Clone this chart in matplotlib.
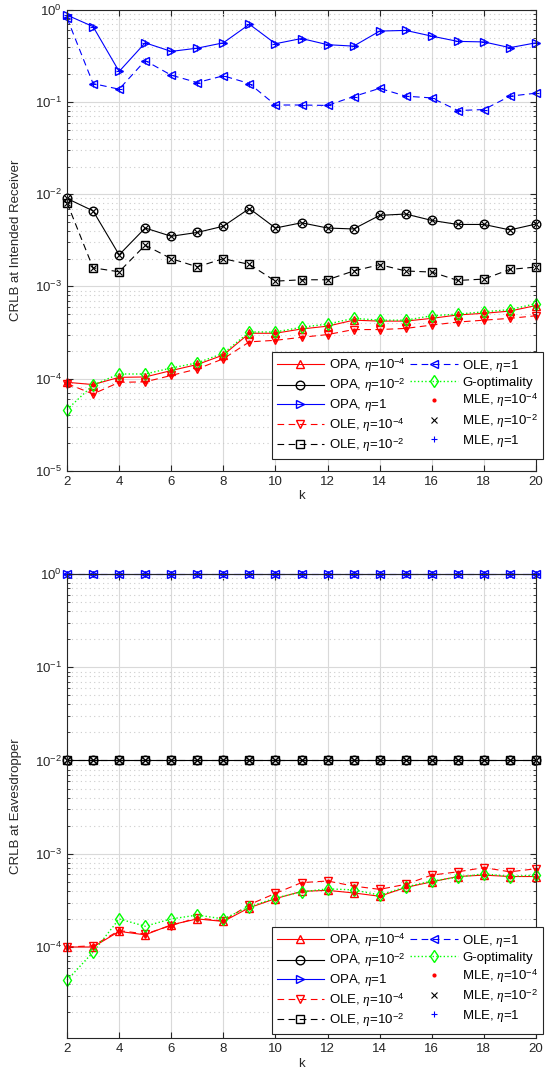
import numpy as np
import matplotlib
matplotlib.use('Agg')
import matplotlib.pyplot as plt
from matplotlib.ticker import LogLocator, NullFormatter

plt.rcParams['font.family'] = ['Liberation Sans', 'DejaVu Sans']
plt.rcParams['mathtext.fontset'] = 'custom'
plt.rcParams['mathtext.rm'] = 'Liberation Sans'
plt.rcParams['mathtext.it'] = 'Liberation Serif:italic'

k = np.arange(2, 21)

# intended receiver
rx_opa_4 = [9.1e-5, 8.6e-5, 1.03e-4, 1.04e-4, 1.22e-4, 1.42e-4, 1.8e-4, 3.1e-4, 3.1e-4, 3.45e-4,
            3.7e-4, 4.3e-4, 4.2e-4, 4.2e-4, 4.5e-4, 4.9e-4, 5.1e-4, 5.4e-4, 6.2e-4]
rx_opa_2 = [0.0090, 0.0066, 0.0022, 0.0043, 0.0035, 0.00385, 0.0045, 0.0070, 0.0043, 0.0049,
            0.0043, 0.0042, 0.0059, 0.0061, 0.0052, 0.0047, 0.0047, 0.0041, 0.00475]
rx_opa_0 = [0.88, 0.66, 0.215, 0.44, 0.355, 0.385, 0.44, 0.70, 0.43, 0.49,
            0.42, 0.405, 0.59, 0.60, 0.52, 0.456, 0.45, 0.39, 0.44]
rx_ole_4 = [8.8e-5, 6.8e-5, 9.1e-5, 9.2e-5, 1.08e-4, 1.27e-4, 1.64e-4, 2.5e-4, 2.6e-4, 2.8e-4,
            3.0e-4, 3.4e-4, 3.4e-4, 3.5e-4, 3.8e-4, 4.1e-4, 4.3e-4, 4.5e-4, 4.8e-4]
rx_ole_2 = [0.0081, 0.00159, 0.00144, 0.0028, 0.0020, 0.00163, 0.0020, 0.00173, 0.00114, 0.00118,
            0.00118, 0.00147, 0.00172, 0.00147, 0.00143, 0.00116, 0.0012, 0.00153, 0.00162]
rx_ole_0 = [0.82, 0.159, 0.138, 0.282, 0.196, 0.163, 0.193, 0.159, 0.093, 0.093,
            0.092, 0.115, 0.141, 0.116, 0.111, 0.081, 0.083, 0.116, 0.125]
rx_gopt = [4.6e-5, 8.5e-5, 1.12e-4, 1.12e-4, 1.3e-4, 1.48e-4, 1.88e-4, 3.2e-4, 3.2e-4, 3.6e-4,
           3.9e-4, 4.5e-4, 4.3e-4, 4.3e-4, 4.8e-4, 5.0e-4, 5.3e-4, 5.6e-4, 6.5e-4]

# eavesdropper
ev_opa_4 = [1.0e-4, 1.0e-4, 1.47e-4, 1.35e-4, 1.73e-4, 2.0e-4, 1.88e-4, 2.64e-4, 3.3e-4, 3.95e-4,
            4.05e-4, 3.8e-4, 3.5e-4, 4.35e-4, 5.0e-4, 5.7e-4, 5.9e-4, 5.7e-4, 5.7e-4]
ev_ole_4 = [1.0e-4, 1.03e-4, 1.5e-4, 1.38e-4, 1.7e-4, 2.05e-4, 1.9e-4, 2.85e-4, 3.76e-4, 4.9e-4,
            5.1e-4, 4.5e-4, 4.15e-4, 4.7e-4, 5.9e-4, 6.4e-4, 7.1e-4, 6.4e-4, 6.9e-4]
ev_opa_2 = [0.01] * 19
ev_ole_2 = [0.01] * 19
ev_opa_0 = [1.0] * 19
ev_ole_0 = [1.0] * 19
ev_gopt = [4.4e-5, 8.8e-5, 2.0e-4, 1.67e-4, 2.0e-4, 2.2e-4, 2.0e-4, 2.7e-4, 3.35e-4, 3.9e-4,
           4.2e-4, 4.1e-4, 3.6e-4, 4.4e-4, 5.1e-4, 5.6e-4, 6.1e-4, 5.7e-4, 5.9e-4]

lab = {
    'opa4': 'OPA, $\\mathit{\\eta}$=10$^{-4}$',
    'opa2': 'OPA, $\\mathit{\\eta}$=10$^{-2}$',
    'opa0': 'OPA, $\\mathit{\\eta}$=1',
    'ole4': 'OLE, $\\mathit{\\eta}$=10$^{-4}$',
    'ole2': 'OLE, $\\mathit{\\eta}$=10$^{-2}$',
    'ole0': 'OLE, $\\mathit{\\eta}$=1',
    'gopt': 'G-optimality',
    'mle4': 'MLE, $\\mathit{\\eta}$=10$^{-4}$',
    'mle2': 'MLE, $\\mathit{\\eta}$=10$^{-2}$',
    'mle0': 'MLE, $\\mathit{\\eta}$=1',
}

RED = (1, 0, 0)
BLK = (0, 0, 0)
BLU = (0, 0, 1)
GRN = (0, 1, 0)
AXC = (0.15, 0.15, 0.15)


def draw(ax, opa4, opa2, opa0, ole4, ole2, ole0, gopt, ylabel, ylo, anchor_y):
    kw = dict(markerfacecolor='none', markersize=6.2, linewidth=0.8, clip_on=False)
    h = {}
    h['opa4'], = ax.plot(k, opa4, '-^', color=RED, **kw)
    h['opa2'], = ax.plot(k, opa2, '-o', color=BLK, **kw)
    h['opa0'], = ax.plot(k, opa0, '->', color=BLU, **kw)
    h['ole4'], = ax.plot(k, ole4, '--v', color=RED, dashes=(6, 4), **kw)
    h['ole2'], = ax.plot(k, ole2, '--s', color=BLK, dashes=(6, 4), markersize=5.2,
                         markerfacecolor='none', linewidth=0.8, clip_on=False)
    h['ole0'], = ax.plot(k, ole0, '--<', color=BLU, dashes=(6, 4), **kw)
    h['gopt'], = ax.plot(k, gopt, ':d', color=GRN, markersize=6, markerfacecolor='none',
                         linewidth=1.0, clip_on=False)
    # MLE points sit on both the OPA and OLE designs
    for arr in (opa4, ole4):
        h['mle4'], = ax.plot(k, arr, '.', color=RED, markersize=4, linestyle='none', clip_on=False)
    for arr in (opa2, ole2):
        h['mle2'], = ax.plot(k, arr, 'x', color=BLK, markersize=4, markeredgewidth=0.8,
                             linestyle='none', clip_on=False)
    for arr in (opa0, ole0):
        h['mle0'], = ax.plot(k, arr, '+', color=BLU, markersize=5, markeredgewidth=0.8,
                             linestyle='none', clip_on=False)

    ax.set_yscale('log')
    ax.set_xlim(2, 20)
    ax.set_ylim(ylo, 1)
    ax.set_xticks(np.arange(2, 21, 2))
    ax.yaxis.set_major_locator(LogLocator(base=10, numticks=10))
    ax.yaxis.set_minor_locator(LogLocator(base=10, subs=np.arange(2, 10), numticks=20))
    ax.yaxis.set_minor_formatter(NullFormatter())
    ax.grid(True, which='major', color=(0.85, 0.85, 0.85), linewidth=0.8)
    ax.grid(True, which='minor', axis='y', color=(0.8, 0.8, 0.8), linestyle=(0, (1, 3)),
            linewidth=0.8)
    ax.set_axisbelow(True)
    ax.tick_params(which='both', direction='in', top=True, right=True, colors=AXC,
                   labelsize=9.5, labelcolor=AXC)
    ax.tick_params(which='major', length=4)
    ax.tick_params(which='minor', length=2.5)
    for s in ax.spines.values():
        s.set_color(AXC)
        s.set_linewidth(0.8)
    ax.set_xlabel('k', fontsize=9.5, color=AXC, labelpad=2)
    ax.set_ylabel(ylabel, fontsize=9.5, color=AXC, labelpad=9)

    order = ['opa4', 'opa2', 'opa0', 'ole4', 'ole2', 'ole0', 'gopt', 'mle4', 'mle2', 'mle0']
    leg = ax.legend([h[n] for n in order], [lab[n] for n in order], ncol=2,
                    loc='upper right', bbox_to_anchor=(1.015, anchor_y),
                    fontsize=9.5, handlelength=3.6, handletextpad=0.35, columnspacing=0.35,
                    labelspacing=0.22, borderpad=0.35, fancybox=False, framealpha=1,
                    edgecolor=AXC, borderaxespad=0)
    leg.get_frame().set_linewidth(0.8)
    leg.set_zorder(10)
    return leg


fig = plt.figure(figsize=(5.52, 10.83), dpi=100)
ax1 = fig.add_axes([0.1214, 0.5654, 0.8496, 0.4254])
ax2 = fig.add_axes([0.1214, 0.0413, 0.8496, 0.4287])

draw(ax1, rx_opa_4, rx_opa_2, rx_opa_0, rx_ole_4, rx_ole_2, rx_ole_0, rx_gopt,
     'CRLB at Intended Receiver', 1e-5, 0.258)
draw(ax2, ev_opa_4, ev_opa_2, ev_opa_0, ev_ole_4, ev_ole_2, ev_ole_0, ev_gopt,
     'CRLB at Eavesdropper', 1.05e-5, 0.24)
ax2.set_yticks([1e-4, 1e-3, 1e-2, 1e-1, 1])

fig.savefig('out.png', dpi=100)
